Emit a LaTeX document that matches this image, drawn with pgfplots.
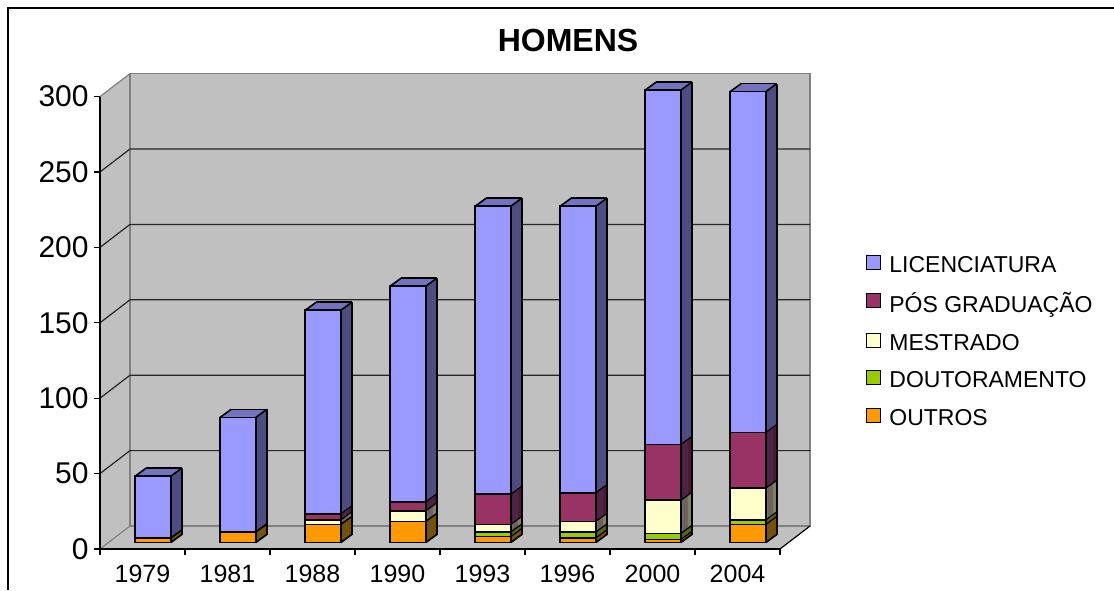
\documentclass[border=0pt]{standalone}
\usepackage{fontspec}
\setmainfont{Liberation Sans}
\usepackage{pgfplots}
\usepackage{pgfplotstable}
\pgfplotsset{compat=1.18}
\definecolor{licF}{HTML}{9999FF}
\definecolor{licT}{HTML}{7373BF}
\definecolor{licS}{HTML}{4C4C80}
\definecolor{posF}{HTML}{993366}
\definecolor{posS}{HTML}{4D1A33}
\definecolor{mesF}{HTML}{FFFFCC}
\definecolor{mesS}{HTML}{808066}
\definecolor{douF}{HTML}{99CC00}
\definecolor{douS}{HTML}{4D6600}
\definecolor{outF}{HTML}{FF9900}
\definecolor{outS}{HTML}{804D00}
\definecolor{wall}{HTML}{C0C0C0}
\definecolor{wallE}{HTML}{808080}

\pgfplotstableread{
year O D M P L
1979 3 0 0 0 41
1981 7 0 0 0 76
1988 12 0 3 4 135
1990 14 0 7 6 143
1993 4 3 5 20 191
1996 3 4 7 19 190
2000 2 4 22 37 235
2004 12 3 21 37 226
}\data
\pgfplotstablecreatecol[expr={\thisrow{O}}]{cO}\data
\pgfplotstablecreatecol[expr={\thisrow{O}+\thisrow{D}}]{cD}\data
\pgfplotstablecreatecol[expr={\thisrow{O}+\thisrow{D}+\thisrow{M}}]{cM}\data
\pgfplotstablecreatecol[expr={\thisrow{O}+\thisrow{D}+\thisrow{M}+\thisrow{P}}]{cP}\data
\pgfplotstablecreatecol[expr={\thisrow{O}+\thisrow{D}+\thisrow{M}+\thisrow{P}+\thisrow{L}}]{cL}\data

\begin{document}
\begin{tikzpicture}
\path[use as bounding box] (0,0) rectangle (557pt,295pt);
\draw[line width=0.8pt] (4pt,0pt) -- (4pt,291pt) -- (557pt,291pt);
\node[font=\fontsize{16}{19}\selectfont\bfseries] at (284pt,275pt) {HOMENS};
\begin{axis}[
  at={(50pt,20.5pt)}, anchor=south west,
  x=42.5pt, y=0.754pt,
  xmin=0, xmax=8, ymin=0, ymax=300,
  clip=false, axis on top,
  axis x line*=bottom, axis y line*=left,
  axis line style={black, line width=0.6pt},
  /pgf/number format/assume math mode=true,
  ytick={0,50,...,300},
  yticklabel style={font=\fontsize{15}{18}\selectfont, inner sep=0pt, xshift=-2.5pt},
  xtick={0,1,...,8}, xticklabels={},
  extra x ticks={0.5,1.5,...,7.5},
  extra x tick labels={1979,1981,1988,1990,1993,1996,2000,2004},
  extra x tick style={major tick length=0pt,
     tick label style={font=\fontsize{12.5}{15}\selectfont, inner sep=0pt, anchor=north, yshift=-8pt}},
  tick align=outside, major tick length=3pt,
  tick style={black, line width=0.6pt},
  legend style={at={(1.126,0.4587)}, anchor=west, draw=none, fill=none,
     font=\fontsize{11.5}{13}\selectfont, row sep=8.5pt, inner sep=0pt,
     nodes={inner sep=0pt}},
  legend cell align=left,
]
% walls
\fill[wall] (axis cs:0.353,15.25) rectangle (axis cs:8.353,315.25);
\fill[wall] (axis cs:0,0) -- (axis cs:0.353,15.25) -- (axis cs:0.353,315.25) -- (axis cs:0,300) -- cycle;
\fill[wall] (axis cs:0,0) -- (axis cs:8,0) -- (axis cs:8.353,15.25) -- (axis cs:0.353,15.25) -- cycle;
\draw[wallE, line width=0.6pt] (axis cs:0.353,15.25) rectangle (axis cs:8.353,315.25);
\draw[wallE, line width=0.6pt] (axis cs:0,0) -- (axis cs:0.353,15.25);
\draw[wallE, line width=0.6pt] (axis cs:0,300) -- (axis cs:0.353,315.25);
\draw[black, line width=0.6pt] (axis cs:8,0) -- (axis cs:8.353,15.25);
\draw[black!85, line width=0.6pt] (axis cs:0,50) -- (axis cs:0.353,65.25) -- (axis cs:8.353,65.25);
\draw[black!85, line width=0.6pt] (axis cs:0,100) -- (axis cs:0.353,115.25) -- (axis cs:8.353,115.25);
\draw[black!85, line width=0.6pt] (axis cs:0,150) -- (axis cs:0.353,165.25) -- (axis cs:8.353,165.25);
\draw[black!85, line width=0.6pt] (axis cs:0,200) -- (axis cs:0.353,215.25) -- (axis cs:8.353,215.25);
\draw[black!85, line width=0.6pt] (axis cs:0,250) -- (axis cs:0.353,265.25) -- (axis cs:8.353,265.25);

% top faces (extrusion)
\pgfplotsinvokeforeach{10,9,...,1}{
\addplot[ybar, bar width=17.85pt, bar shift={#1*0.55pt}, yshift={3.25pt+#1*0.4pt}, fill=licT, draw=none, forget plot]
  table[x expr=\coordindex+0.6235, y=cL]{\data};
}
% side faces (extrusion strips)
\pgfplotsinvokeforeach{10,9,...,1}{
\addplot[ybar, bar width=0.75pt, bar shift={8.925pt+(#1-0.5)*0.55pt}, yshift={3.25pt+(#1-0.5)*0.4pt}, fill=licS, draw=none, forget plot]
  table[x expr=\coordindex+0.6235, y=cL]{\data};
\addplot[ybar, bar width=0.75pt, bar shift={8.925pt+(#1-0.5)*0.55pt}, yshift={3.25pt+(#1-0.5)*0.4pt}, fill=posS, draw=none, forget plot]
  table[x expr=\coordindex+0.6235, y=cP]{\data};
\addplot[ybar, bar width=0.75pt, bar shift={8.925pt+(#1-0.5)*0.55pt}, yshift={3.25pt+(#1-0.5)*0.4pt}, fill=mesS, draw=none, forget plot]
  table[x expr=\coordindex+0.6235, y=cM]{\data};
\addplot[ybar, bar width=0.75pt, bar shift={8.925pt+(#1-0.5)*0.55pt}, yshift={3.25pt+(#1-0.5)*0.4pt}, fill=douS, draw=none, forget plot]
  table[x expr=\coordindex+0.6235, y=cD]{\data};
\addplot[ybar, bar width=0.75pt, bar shift={8.925pt+(#1-0.5)*0.55pt}, yshift={3.25pt+(#1-0.5)*0.4pt}, fill=outS, draw=none, forget plot]
  table[x expr=\coordindex+0.6235, y=cO]{\data};
}
% edges of the 3D boxes
\addplot[black, line width=0.8pt, yshift=3.25pt, quiver={u=0.12941, v=5.305}, forget plot]
  table[x expr=\coordindex+0.4135, y=cL]{\data};
\addplot[black, line width=0.8pt, yshift=3.25pt, quiver={u=0.12941, v=5.305}, forget plot]
  table[x expr=\coordindex+0.8335, y=cL]{\data};
\addplot[black, line width=0.8pt, yshift=3.25pt, quiver={u=0.42, v=0}, forget plot]
  table[x expr=\coordindex+0.5429, y expr=\thisrow{cL}+5.305]{\data};
\addplot[black, line width=0.8pt, yshift=3.25pt, quiver={u=0, v=\thisrow{cL}}, forget plot]
  table[x expr=\coordindex+0.9629, y expr=5.305]{\data};
\addplot[black, line width=0.8pt, yshift=3.25pt, quiver={u=0.12941, v=5.305}, forget plot]
  table[x expr=\coordindex+0.8335, y expr=0]{\data};
\addplot[black, line width=0.6pt, yshift=3.25pt, quiver={u=0.12941, v=5.305}, forget plot]
  table[x expr=\coordindex+0.8335, y=cP]{\data};
\addplot[black, line width=0.6pt, yshift=3.25pt, quiver={u=0.12941, v=5.305}, forget plot]
  table[x expr=\coordindex+0.8335, y=cM]{\data};
\addplot[black, line width=0.6pt, yshift=3.25pt, quiver={u=0.12941, v=5.305}, forget plot]
  table[x expr=\coordindex+0.8335, y=cD]{\data};
\addplot[black, line width=0.6pt, yshift=3.25pt, quiver={u=0.12941, v=5.305}, forget plot]
  table[x expr=\coordindex+0.8335, y=cO]{\data};

% front faces
\addplot[ybar, bar width=17.85pt, bar shift=0pt, yshift=3.25pt, fill=licF, draw=black, line width=0.8pt,
  legend image code/.code={\draw[fill=licF,draw=black,line width=0.5pt] (0pt,-5pt) rectangle (7pt,2pt); \path (11pt,0pt);}]
  table[x expr=\coordindex+0.6235, y=cL]{\data};
\addlegendentry{LICENCIATURA}
\addplot[ybar, bar width=17.85pt, bar shift=0pt, yshift=3.25pt, fill=posF, draw=black, line width=0.8pt,
  legend image code/.code={\draw[fill=posF,draw=black,line width=0.5pt] (0pt,-5pt) rectangle (7pt,2pt); \path (11pt,0pt);}]
  table[x expr=\coordindex+0.6235, y=cP]{\data};
\addlegendentry{PÓS GRADUAÇÃO}
\addplot[ybar, bar width=17.85pt, bar shift=0pt, yshift=3.25pt, fill=mesF, draw=black, line width=0.8pt,
  legend image code/.code={\draw[fill=mesF,draw=black,line width=0.5pt] (0pt,-5pt) rectangle (7pt,2pt); \path (11pt,0pt);}]
  table[x expr=\coordindex+0.6235, y=cM]{\data};
\addlegendentry{MESTRADO}
\addplot[ybar, bar width=17.85pt, bar shift=0pt, yshift=3.25pt, fill=douF, draw=black, line width=0.8pt,
  legend image code/.code={\draw[fill=douF,draw=black,line width=0.5pt] (0pt,-5pt) rectangle (7pt,2pt); \path (11pt,0pt);}]
  table[x expr=\coordindex+0.6235, y=cD]{\data};
\addlegendentry{DOUTORAMENTO}
\addplot[ybar, bar width=17.85pt, bar shift=0pt, yshift=3.25pt, fill=outF, draw=black, line width=0.8pt,
  legend image code/.code={\draw[fill=outF,draw=black,line width=0.5pt] (0pt,-5pt) rectangle (7pt,2pt); \path (11pt,0pt);}]
  table[x expr=\coordindex+0.6235, y=cO]{\data};
\addlegendentry{OUTROS}
\end{axis}
\end{tikzpicture}
\end{document}
